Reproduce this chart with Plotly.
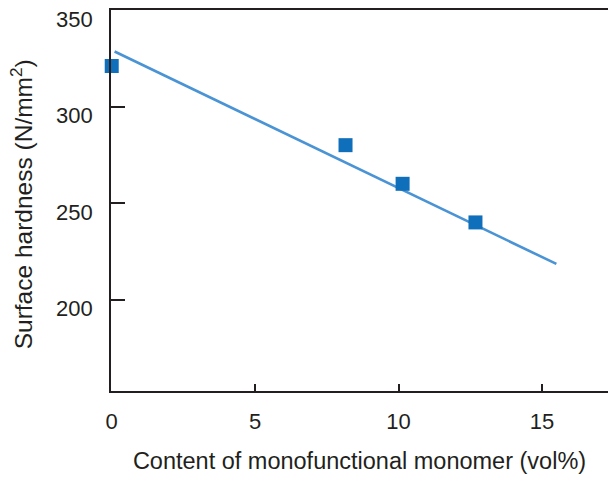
import plotly.graph_objects as go

# Data
content_vol = [0.0, 8.15, 10.14, 12.68]
hardness = [321, 280, 260, 240]

fit_x = [0.1, 15.5]
fit_y = [328.5, 218.5]

x_ticks = [0, 5, 10, 15]
y_ticks = [200, 250, 300, 350]

TEXT = "#231f20"
FONT = "Liberation Sans, Arial, Helvetica, sans-serif"

fig = go.Figure()
fig.add_trace(go.Scatter(
    x=fit_x, y=fit_y, mode="lines",
    line=dict(color="#4a93d4", width=2.6),
    hoverinfo="skip", showlegend=False,
))
fig.add_trace(go.Scatter(
    x=content_vol, y=hardness, mode="markers",
    marker=dict(symbol="square", size=14, color="#0f6fba", line=dict(width=0)),
    showlegend=False, cliponaxis=False,
))

# y tick labels (placed slightly below the tick, as in the reference)
for v in y_ticks:
    fig.add_annotation(
        x=0, xref="paper", y=v, yref="y", text=str(v), showarrow=False,
        xanchor="right", yanchor="middle", xshift=-16, yshift=-9,
        font=dict(family=FONT, size=22, color=TEXT),
    )
fig.add_annotation(
    x=0, xref="paper", y=0.49, yref="paper",
    text="Surface hardness (N/mm<sup>2</sup>)", showarrow=False,
    textangle=-90, xanchor="center", yanchor="middle", xshift=-90,
    font=dict(family=FONT, size=24.5, color=TEXT),
)

fig.update_layout(
    width=608, height=478,
    margin=dict(l=111, r=0, t=10, b=87),
    paper_bgcolor="white", plot_bgcolor="white",
    font=dict(family=FONT, size=22, color=TEXT),
    xaxis=dict(
        range=[-0.025, 17.3], tickvals=x_ticks,
        ticks="inside", ticklen=7, tickwidth=1.5, tickcolor=TEXT,
        showline=True, linecolor=TEXT, linewidth=2, mirror=True,
        showgrid=False, zeroline=False,
        ticklabelstandoff=10,
        tickfont=dict(family=FONT, size=22, color=TEXT),
        title=dict(text="Content of monofunctional monomer (vol%)",
                   font=dict(family=FONT, size=23.5, color=TEXT), standoff=19),
    ),
    yaxis=dict(
        range=[152.7, 350], tickvals=y_ticks, showticklabels=False,
        ticks="inside", ticklen=14, tickwidth=2, tickcolor=TEXT,
        showline=True, linecolor=TEXT, linewidth=2,
        showgrid=False, zeroline=False,
    ),
)

fig.write_html(
    "out.html",
    config={"displayModeBar": False},
    post_script="document.body.style.margin='0';document.body.style.padding='0';",
)
